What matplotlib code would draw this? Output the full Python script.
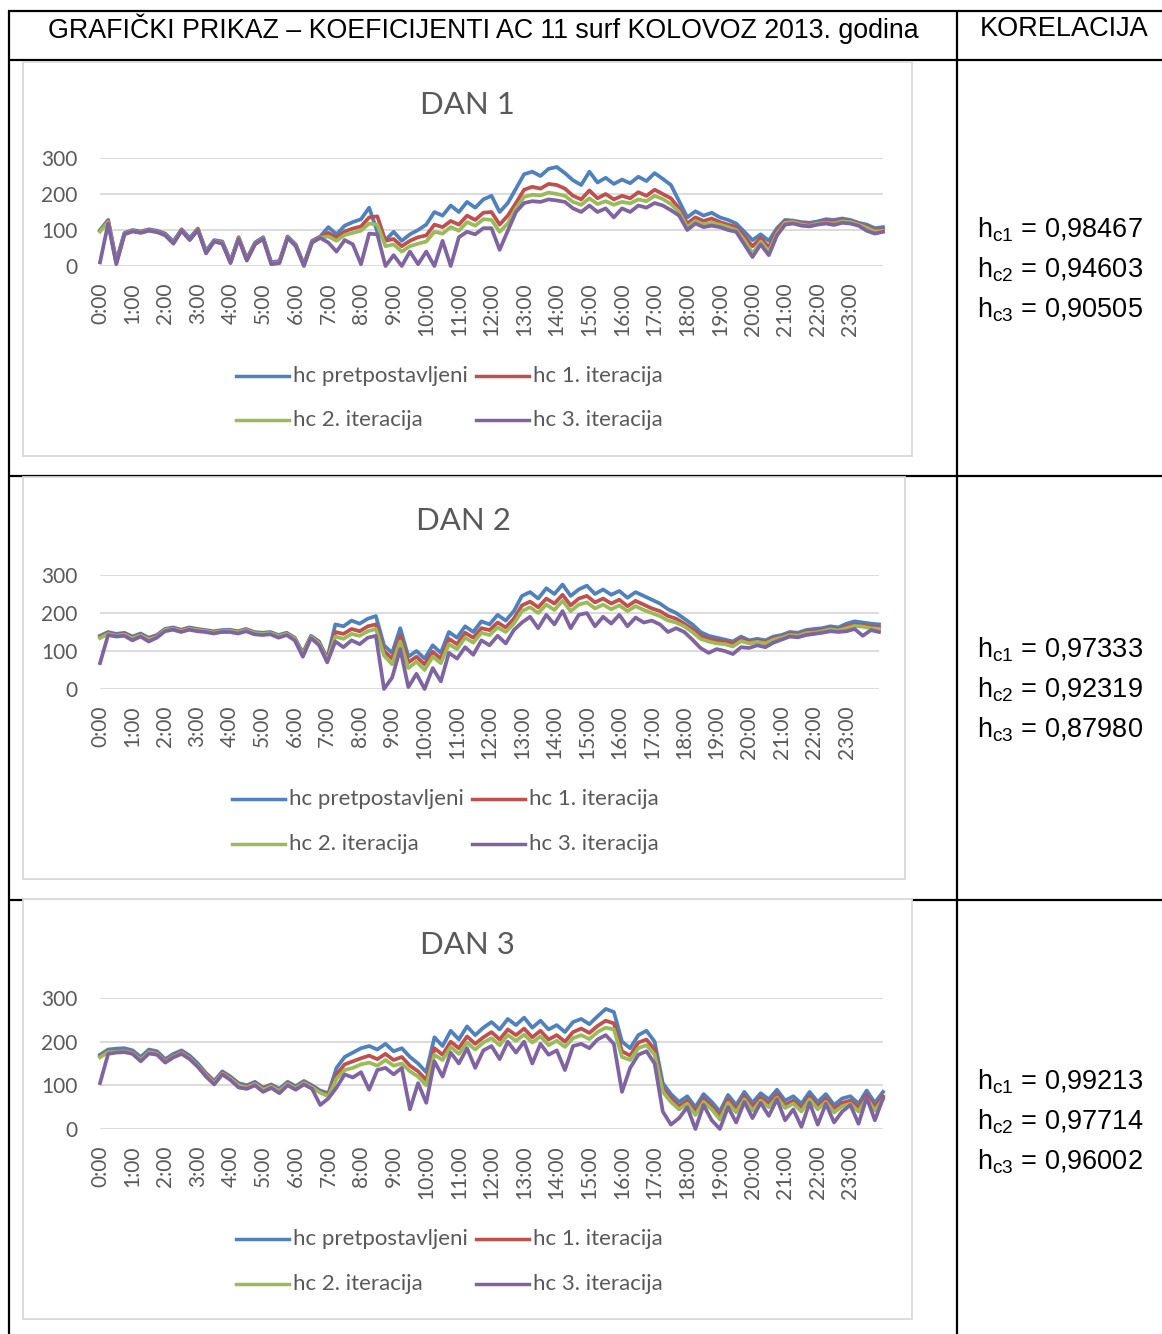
import numpy as np
import matplotlib
matplotlib.use("Agg")
import matplotlib.pyplot as plt
from matplotlib.lines import Line2D
from matplotlib.patches import Rectangle

plt.rcParams['mathtext.fontset'] = 'custom'
plt.rcParams['mathtext.rm'] = 'Liberation Sans'
plt.rcParams['mathtext.it'] = 'Liberation Sans'

# ---------------- data (15-minute readings, 0:00 .. 24:00) ----------------
hour_labels = [f"{h}:00" for h in range(24)]
y_ticks = [0, 100, 200, 300]
series_names = ["hc pretpostavljeni", "hc 1. iteracija", "hc 2. iteracija", "hc 3. iteracija"]
day_titles = ["DAN 1", "DAN 2", "DAN 3"]
corr_labels = ["c1", "c2", "c3"]
corr_values = [["0,98467", "0,94603", "0,90505"],
               ["0,97333", "0,92319", "0,87980"],
               ["0,99213", "0,97714", "0,96002"]]

d1_pretp = [100, 128, 15, 92, 100, 96, 102, 98, 90, 68, 102, 78, 104, 42, 72, 68,
            14, 80, 20, 65, 80, 10, 14, 82, 60, 5, 70, 82, 108, 88, 112, 122,
            130, 162, 95, 72, 95, 70, 88, 100, 115, 150, 140, 168, 150, 178, 162, 185,
            195, 150, 175, 215, 255, 262, 250, 270, 275, 258, 238, 225, 262, 232, 245, 228,
            240, 230, 248, 236, 258, 242, 225, 180, 135, 152, 140, 148, 135, 128, 118, 95,
            72, 88, 70, 105, 128, 126, 122, 120, 124, 130, 128, 132, 128, 120, 115, 105, 108]
d1_it1 = [98, 125, 10, 90, 98, 94, 100, 96, 88, 65, 100, 75, 102, 38, 70, 65,
          11, 78, 18, 62, 78, 8, 11, 80, 58, 3, 68, 80, 92, 78, 96, 104,
          110, 135, 138, 70, 75, 55, 70, 80, 85, 115, 108, 125, 115, 140, 128, 148,
          150, 115, 140, 175, 212, 220, 215, 228, 225, 215, 195, 185, 210, 188, 200, 185,
          195, 188, 205, 195, 212, 200, 188, 160, 118, 135, 125, 132, 122, 115, 108, 82,
          55, 78, 52, 98, 124, 124, 118, 115, 120, 124, 122, 128, 124, 118, 110, 100, 102]
d1_it2 = [96, 122, 8, 89, 97, 93, 99, 95, 86, 64, 99, 73, 101, 37, 69, 64,
          10, 77, 16, 61, 77, 6, 10, 79, 57, 2, 66, 79, 82, 70, 86, 92,
          98, 118, 115, 55, 60, 40, 55, 62, 68, 95, 90, 108, 98, 122, 112, 130,
          128, 95, 118, 160, 192, 198, 196, 204, 200, 195, 178, 170, 188, 172, 180, 170,
          178, 174, 185, 180, 195, 186, 172, 150, 108, 125, 115, 120, 115, 108, 100, 72,
          35, 68, 40, 90, 120, 122, 115, 112, 118, 120, 118, 124, 122, 115, 106, 96, 98]
d1_it3 = [10, 118, 5, 88, 96, 92, 98, 94, 85, 62, 98, 72, 100, 35, 68, 62,
          8, 75, 15, 60, 75, 5, 8, 78, 55, 0, 65, 78, 65, 40, 72, 60,
          5, 90, 88, 0, 30, 0, 40, 5, 40, 0, 70, 0, 80, 95, 88, 105,
          105, 45, 98, 150, 175, 180, 178, 185, 182, 178, 160, 150, 168, 150, 160, 135,
          160, 150, 168, 162, 175, 168, 155, 140, 100, 118, 108, 112, 108, 100, 95, 60,
          25, 60, 30, 85, 115, 118, 112, 110, 115, 118, 114, 120, 118, 112, 98, 90, 95]

d2_pretp = [140, 150, 145, 148, 138, 146, 135, 142, 158, 162, 156, 162, 158, 155, 152, 155,
            156, 152, 158, 150, 148, 150, 142, 148, 135, 95, 140, 125, 80, 170, 165, 180,
            172, 185, 192, 115, 95, 160, 85, 100, 80, 115, 95, 150, 135, 165, 150, 178,
            170, 195, 180, 205, 245, 255, 238, 265, 250, 275, 245, 262, 272, 250, 262, 248,
            258, 240, 255, 245, 235, 225, 210, 200, 185, 170, 150, 140, 135, 130, 125, 138,
            128, 132, 128, 138, 142, 150, 148, 155, 158, 160, 165, 162, 172, 178, 175, 172, 170]
d2_it1 = [136, 147, 142, 145, 135, 143, 132, 139, 156, 160, 154, 160, 156, 153, 150, 153,
          154, 150, 156, 148, 146, 148, 140, 146, 133, 92, 138, 122, 76, 150, 145, 158,
          152, 165, 170, 100, 80, 140, 70, 85, 65, 98, 80, 132, 118, 148, 135, 160,
          155, 175, 162, 185, 220, 230, 215, 238, 225, 248, 220, 238, 245, 228, 238, 225,
          235, 218, 232, 222, 212, 205, 192, 185, 172, 158, 140, 132, 128, 125, 120, 132,
          124, 128, 124, 134, 138, 145, 143, 150, 152, 155, 160, 157, 165, 170, 168, 165, 162]
d2_it2 = [134, 145, 140, 143, 133, 141, 130, 137, 155, 158, 153, 158, 155, 152, 149, 152,
          153, 149, 155, 147, 145, 147, 139, 145, 132, 90, 137, 120, 74, 138, 132, 145,
          140, 152, 158, 88, 65, 125, 55, 72, 50, 85, 68, 118, 105, 135, 122, 148,
          142, 162, 150, 172, 205, 215, 200, 222, 208, 232, 205, 222, 228, 212, 222, 210,
          220, 205, 218, 208, 200, 192, 180, 175, 165, 150, 132, 125, 120, 118, 112, 126,
          120, 124, 120, 130, 135, 142, 140, 147, 148, 152, 157, 154, 160, 166, 164, 160, 158]
d2_it3 = [68, 142, 138, 140, 128, 138, 125, 135, 152, 156, 150, 156, 152, 150, 146, 150,
          150, 146, 152, 144, 142, 144, 135, 142, 128, 85, 134, 115, 70, 125, 110, 128,
          118, 135, 140, 0, 30, 105, 5, 40, 0, 55, 20, 95, 80, 110, 90, 128,
          115, 140, 120, 155, 175, 190, 160, 195, 170, 205, 160, 195, 200, 165, 190, 172,
          195, 165, 188, 175, 180, 170, 150, 160, 150, 130, 108, 95, 105, 100, 92, 110,
          108, 115, 110, 122, 130, 138, 136, 142, 145, 148, 152, 150, 152, 158, 140, 155, 150]

d3_pretp = [170, 182, 184, 185, 180, 165, 182, 178, 160, 172, 180, 168, 150, 128, 110, 132,
            120, 105, 100, 108, 95, 102, 92, 108, 98, 110, 100, 88, 82, 140, 165, 175,
            185, 190, 182, 195, 178, 185, 165, 150, 130, 210, 190, 225, 205, 235, 215, 232,
            245, 228, 252, 238, 255, 232, 248, 228, 238, 222, 245, 252, 240, 258, 275, 268,
            200, 185, 215, 225, 200, 105, 80, 62, 75, 50, 80, 62, 40, 78, 55, 85,
            60, 82, 68, 90, 65, 75, 58, 85, 62, 80, 55, 70, 75, 58, 88, 60, 85]
d3_it1 = [166, 178, 179, 180, 176, 160, 178, 174, 156, 168, 176, 164, 146, 125, 107, 129,
          117, 102, 97, 105, 92, 99, 89, 105, 95, 107, 97, 85, 78, 125, 148, 155,
          162, 168, 160, 172, 158, 165, 145, 132, 112, 185, 170, 200, 185, 212, 195, 210,
          222, 205, 228, 215, 230, 210, 225, 205, 215, 200, 222, 230, 220, 236, 248, 242,
          178, 168, 198, 205, 182, 92, 70, 52, 65, 40, 70, 52, 30, 68, 45, 75,
          50, 72, 58, 80, 55, 65, 48, 75, 52, 70, 45, 60, 65, 48, 78, 50, 75]
d3_it2 = [164, 176, 177, 178, 174, 158, 176, 172, 154, 166, 174, 162, 144, 123, 105, 127,
          115, 100, 95, 103, 90, 97, 87, 103, 93, 105, 95, 83, 75, 115, 135, 140,
          148, 152, 145, 158, 145, 150, 132, 120, 100, 170, 158, 188, 172, 198, 182, 198,
          208, 192, 215, 202, 216, 198, 212, 192, 202, 188, 208, 215, 206, 222, 232, 228,
          165, 158, 185, 192, 170, 85, 62, 45, 58, 32, 62, 45, 22, 60, 38, 68,
          42, 65, 50, 72, 48, 58, 40, 68, 45, 62, 38, 52, 58, 40, 70, 42, 68]
d3_it3 = [105, 172, 175, 176, 172, 155, 173, 170, 152, 164, 172, 160, 142, 120, 102, 125,
          112, 95, 92, 100, 85, 94, 82, 100, 90, 102, 92, 55, 70, 95, 125, 118,
          130, 90, 135, 140, 125, 140, 45, 105, 60, 155, 120, 175, 150, 185, 140, 180,
          190, 160, 200, 175, 200, 150, 195, 170, 180, 135, 190, 195, 185, 205, 215, 195,
          85, 140, 170, 178, 150, 40, 10, 25, 50, 0, 55, 20, 0, 50, 15, 62,
          25, 60, 30, 68, 20, 45, 5, 60, 10, 58, 15, 40, 55, 12, 72, 20, 70]

days = [[d1_pretp, d1_it1, d1_it2, d1_it3],
        [d2_pretp, d2_it1, d2_it2, d2_it3],
        [d3_pretp, d3_it1, d3_it2, d3_it3]]

# ---------------- styling / layout ----------------
colors = ['#4F81BD', '#C0504D', '#9BBB59', '#8064A2']
grey_txt = '#595959'
W, H = 1162, 1334
fig = plt.figure(figsize=(W / 100, H / 100), dpi=100)


def fx(x):
    return x / W


def fy(y):
    return 1 - y / H


def hline(y, x0, x1, **kw):
    fig.add_artist(Line2D([fx(x0), fx(x1)], [fy(y), fy(y)], transform=fig.transFigure, **kw))


def vline(x, y0, y1, **kw):
    fig.add_artist(Line2D([fx(x), fx(x)], [fy(y0), fy(y1)], transform=fig.transFigure, **kw))


tbl = dict(color='black', lw=1.6, zorder=-3, solid_capstyle='butt')
hline(11, 8, 1162, **tbl)
hline(60, 8, 1162, **tbl)
hline(476, 8, 1162, **tbl)
hline(900, 8, 1162, **tbl)
vline(9, 10, 1334, **tbl)
vline(957, 10, 1334, **tbl)

fig.text(fx(483), fy(29), "GRAFIČKI PRIKAZ – KOEFICIJENTI AC 11 surf KOLOVOZ 2013. godina",
         ha='center', va='center', fontsize=19.3, family='Liberation Sans', color='black')
fig.text(fx(1064), fy(29), "KORELACIJA", ha='center', va='center', fontsize=19.5,
         family='Liberation Sans', color='black')

layout = [
    dict(box=(23, 62, 912, 456), plot=(100, 158, 883, 266), title=(467, 105),
         leg=(236, 376, 420), corr=(230, 270, 310)),
    dict(box=(23, 477, 905, 879), plot=(100, 575, 879, 689), title=(464, 521),
         leg=(232, 799, 844), corr=(650, 690, 730)),
    dict(box=(23, 899, 912, 1319), plot=(100, 998, 883, 1129), title=(467, 945),
         leg=(236, 1239, 1284), corr=(1082, 1122, 1162)),
]

t = np.arange(97) / 4.0

for k, (L, data) in enumerate(zip(layout, days)):
    bx0, by0, bx1, by1 = L['box']
    fig.add_artist(Rectangle((fx(bx0), fy(by1)), (bx1 - bx0) / W, (by1 - by0) / H,
                             transform=fig.transFigure, facecolor='white',
                             edgecolor='#D9D9D9', lw=1.3, zorder=-2))
    px0, py0, px1, py1 = L['plot']
    ax = fig.add_axes([fx(px0), fy(py1), (px1 - px0) / W, (py1 - py0) / H])
    ax.set_facecolor('none')
    for vals, c in zip(data, colors):
        ax.plot(t, vals, color=c, lw=2.7, solid_joinstyle='round', clip_on=False)
    ax.set_xlim(0, 24)
    ax.set_ylim(0, 300)
    ax.set_yticks(y_ticks)
    ax.set_yticklabels([str(v) for v in y_ticks], family='Lato', fontsize=15, color=grey_txt)
    ax.set_xticks(np.arange(24))
    ax.set_xticklabels(hour_labels, rotation=90, family='Lato', fontsize=15, color=grey_txt)
    ax.tick_params(axis='y', length=0, pad=16)
    ax.tick_params(axis='x', length=0, pad=12)
    ax.yaxis.grid(True, color='#D9D9D9', lw=1.3)
    ax.set_axisbelow(True)
    for s in ax.spines.values():
        s.set_visible(False)

    tx, ty = L['title']
    fig.text(fx(tx), fy(ty), day_titles[k], ha='center', va='center', fontsize=22.5,
             family='Lato', color=grey_txt)

    lx, ly1, ly2 = L['leg']
    pos = [(lx, ly1), (lx + 240, ly1), (lx, ly2), (lx + 240, ly2)]
    for (x, y), c, name in zip(pos, colors, series_names):
        fig.add_artist(Line2D([fx(x), fx(x + 53)], [fy(y), fy(y)], transform=fig.transFigure,
                              color=c, lw=2.5))
        fig.text(fx(x + 57), fy(y), name, ha='left', va='center', fontsize=16,
                 family='Lato', color=grey_txt)

    for y, lab, val in zip(L['corr'], corr_labels, corr_values[k]):
        fig.text(fx(977), fy(y), r"h$_{\mathrm{" + lab + r"}}$ = " + val, ha='left',
                 va='center', fontsize=19.5, family='Liberation Sans', color='black')

fig.savefig("out.png", dpi=100)
